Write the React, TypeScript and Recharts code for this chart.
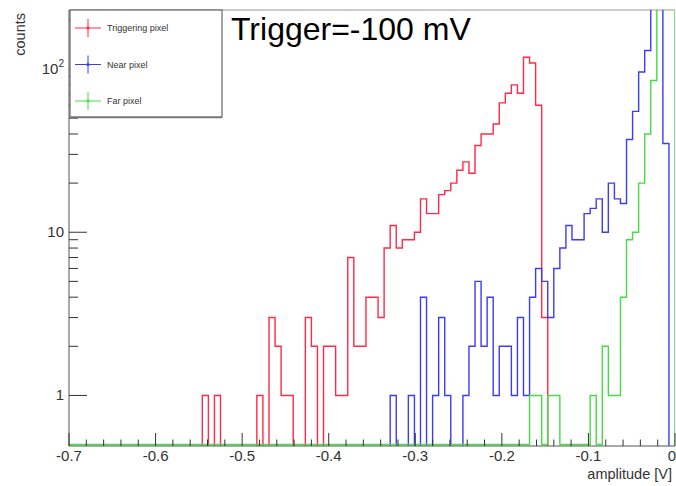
import { Line, LineChart, ReferenceLine, XAxis, YAxis } from 'recharts';

const FONT = 'Liberation Sans, Arial, Helvetica, sans-serif';

// histogram binning: 100 bins from -0.7 V to 0 V
const X_MIN = -0.7;
const X_MAX = 0;
const BIN_WIDTH = 0.007;
const Y_MIN = 0.49;
const Y_MAX = 230;
// where empty bins are drawn (below the frame = hidden, at the frame = visible)
const EMPTY_HIDDEN = 0.45;
const EMPTY_VISIBLE = 0.5;

// counts per bin (0 = empty bin)
const triggeringCounts = [
  0, 0, 0, 0, 0, 0, 0, 0, 0, 0,
  0, 0, 0, 0, 0, 0, 0, 0, 0, 0,
  0, 0, 1, 0, 1, 0, 0, 0, 0, 0,
  0, 1, 0, 3, 2, 1, 1, 0, 0, 3,
  2, 0, 2, 2, 1, 1, 7, 2, 2, 4,
  4, 3, 8, 11, 8, 9, 9, 10, 16, 13,
  13, 17, 18, 20, 24, 27, 23, 34, 40, 40,
  46, 62, 71, 80, 71, 118, 109, 60, 3, 0,
  0, 0, 0, 0, 0, 0, 0, 0, 0, 0,
  0, 0, 0, 0, 0, 0, 0, 0, 0, 0,
];

const nearCounts = [
  0, 0, 0, 0, 0, 0, 0, 0, 0, 0,
  0, 0, 0, 0, 0, 0, 0, 0, 0, 0,
  0, 0, 0, 0, 0, 0, 0, 0, 0, 0,
  0, 0, 0, 0, 0, 0, 0, 0, 0, 0,
  0, 0, 0, 0, 0, 0, 0, 0, 0, 0,
  0, 0, 0, 1, 0, 0, 1, 0, 4, 0,
  1, 3, 1, 0, 0, 1, 2, 5, 2, 4,
  1, 2, 2, 1, 3, 1, 4, 6, 5, 3,
  6, 8, 11, 9, 9, 13, 14, 16, 10, 20,
  16, 15, 37, 55, 96, 130, 300, 300, 35, 0,
];

const farCounts = [
  0, 0, 0, 0, 0, 0, 0, 0, 0, 0,
  0, 0, 0, 0, 0, 0, 0, 0, 0, 0,
  0, 0, 0, 0, 0, 0, 0, 0, 0, 0,
  0, 0, 0, 0, 0, 0, 0, 0, 0, 0,
  0, 0, 0, 0, 0, 0, 0, 0, 0, 0,
  0, 0, 0, 0, 0, 0, 0, 0, 0, 0,
  0, 0, 0, 0, 0, 0, 0, 0, 0, 0,
  0, 0, 0, 0, 0, 0, 1, 1, 0, 1,
  1, 0, 0, 0, 0, 0, 1, 0, 2, 1,
  1, 4, 9, 10, 20, 40, 85, 300, 300, 300,
];

const seriesKeys = ['trig', 'near', 'far'];
const seriesNames = ['Triggering pixel', 'Near pixel', 'Far pixel'];
const seriesColors = ['#ff2a45', '#3c3cf0', '#44dd44'];

const xMajorTicks = [-0.7, -0.6, -0.5, -0.4, -0.3, -0.2, -0.1, 0];
const xTickLabels = ['-0.7', '-0.6', '-0.5', '-0.4', '-0.3', '-0.2', '-0.1', '0'];
const xTicks = Array.from({ length: 36 }, (_, i) => Math.round((X_MIN + 0.02 * i) * 1000) / 1000);

const yTicks = [1, 2, 3, 4, 5, 6, 7, 8, 9, 10, 20, 30, 40, 50, 60, 70, 80, 90, 100, 200];
const yMajorTicks = [1, 10, 100];

const level = (c: number, empty: number) => (c > 0 ? c : empty);

const data = triggeringCounts.map((_, i) => ({
  x: Math.round((X_MIN + i * BIN_WIDTH) * 1000) / 1000,
  trig: level(triggeringCounts[i], EMPTY_HIDDEN),
  near: level(nearCounts[i], EMPTY_HIDDEN),
  far: level(farCounts[i], EMPTY_VISIBLE),
}));
// closing edge so the last bin is drawn and drops to the floor
data.push({ x: X_MAX, trig: EMPTY_HIDDEN, near: EMPTY_HIDDEN, far: EMPTY_HIDDEN });

function XTick({ x, y, payload }: any) {
  const idx = xMajorTicks.findIndex((m) => Math.abs(m - payload.value) < 1e-6);
  const major = idx >= 0;
  const last = idx === xMajorTicks.length - 1;
  return (
    <g>
      <line x1={x} x2={x} y1={y} y2={y - (major ? 13 : 6.5)} stroke="#333" strokeWidth={1} />
      {major && (
        <text
          x={last ? x + 1 : x}
          y={y + 15}
          textAnchor={last ? 'end' : 'middle'}
          fontSize={15}
          fontFamily={FONT}
          fill="#333"
        >
          {xTickLabels[idx]}
        </text>
      )}
    </g>
  );
}

function YTick({ x, y, payload }: any) {
  const v = payload.value;
  const major = yMajorTicks.includes(v);
  return (
    <g>
      <line x1={x} x2={x + (major ? 18 : 9)} y1={y} y2={y} stroke="#333" strokeWidth={1} />
      {major && (
        <text x={x - 5} y={y + 5} textAnchor="end" fontSize={15} fontFamily={FONT} fill="#333">
          {v === 100 ? (
            <>
              <tspan>10</tspan>
              <tspan dy={-7} fontSize={10}>2</tspan>
            </>
          ) : (
            String(v)
          )}
        </text>
      )}
    </g>
  );
}

export default function App() {
  return (
    <div style={{ position: 'absolute', left: 0, top: 0, width: 676, height: 486, background: '#fff' }}>
      <LineChart width={676} height={486} data={data} margin={{ top: 10, right: 1, bottom: 0, left: 0 }}>
        <XAxis
          dataKey="x"
          type="number"
          domain={[X_MIN, X_MAX]}
          ticks={xTicks}
          interval={0}
          allowDataOverflow
          height={40}
          tickSize={0}
          tickMargin={0}
          tick={(p: any) => <XTick {...p} />}
          stroke="#555"
        />
        <YAxis
          type="number"
          scale="log"
          domain={[Y_MIN, Y_MAX]}
          ticks={yTicks}
          interval={0}
          allowDataOverflow
          width={69}
          tickSize={0}
          tickMargin={0}
          tick={(p: any) => <YTick {...p} />}
          stroke="#555"
        />
        <ReferenceLine y={Y_MAX} stroke="#999" />
        {seriesKeys.map((k, i) => (
          <Line
            key={k}
            dataKey={k}
            name={seriesNames[i]}
            type="stepAfter"
            stroke={seriesColors[i]}
            strokeWidth={1.4}
            dot={false}
            isAnimationActive={false}
          />
        ))}
      </LineChart>
      <svg
        width={676}
        height={486}
        style={{ position: 'absolute', left: 0, top: 0, pointerEvents: 'none' }}
        fontFamily={FONT}
      >
        <rect x={70} y={10} width={152} height={107} fill="#fff" stroke="#666" strokeWidth={1.2} />
        <line x1={71} x2={222} y1={117.5} y2={117.5} stroke="#777" strokeWidth={1.5} />
        {seriesNames.map((name, i) => {
          const cy = 28 + i * 36.5;
          return (
            <g key={name}>
              <line x1={75} x2={101} y1={cy} y2={cy} stroke={seriesColors[i]} strokeWidth={1} />
              <line x1={88} x2={88} y1={cy - 9} y2={cy + 9} stroke={seriesColors[i]} strokeWidth={1} />
              <circle cx={88} cy={cy} r={1.6} fill={seriesColors[i]} />
              <text x={107} y={cy + 3} fontSize={9} fill="#333">
                {name}
              </text>
            </g>
          );
        })}
        <text x={231} y={40} fontSize={32} fill="#000">
          Trigger=-100 mV
        </text>
        <text x={672} y={479} textAnchor="end" fontSize={14.5} fill="#333">
          amplitude [V]
        </text>
        <text transform="translate(25,13) rotate(-90)" textAnchor="end" fontSize={14.5} fill="#333">
          counts
        </text>
      </svg>
    </div>
  );
}
